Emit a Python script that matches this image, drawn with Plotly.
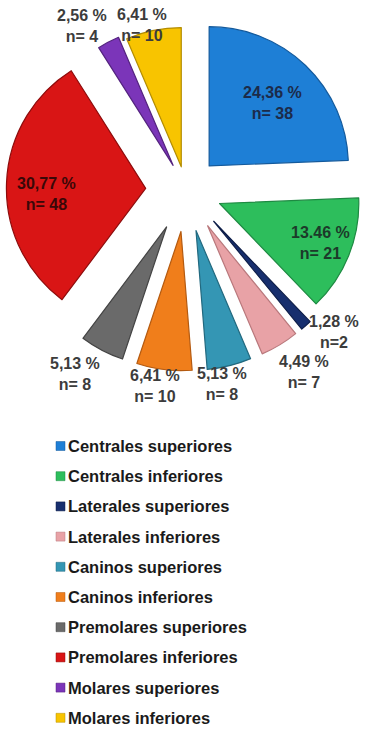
import plotly.graph_objects as go

W, H = 367, 733

categories = ["Centrales superiores", "Centrales inferiores", "Laterales superiores",
              "Laterales inferiores", "Caninos superiores", "Caninos inferiores",
              "Premolares superiores", "Premolares inferiores", "Molares superiores",
              "Molares inferiores"]
counts = [38, 21, 2, 7, 8, 10, 8, 48, 4, 10]
percent_labels = ["24,36 %", "13.46 %", "1,28 %", "4,49 %", "5,13 %", "6,41 %",
                  "5,13 %", "30,77 %", "2,56 %", "6,41 %"]
n_labels = ["n= 38", "n= 21", "n=2", "n= 7", "n= 8", "n= 10", "n= 8", "n= 48", "n= 4", "n= 10"]

colors = ["#1E7FD6", "#2DBE5C", "#172F6E", "#E8A2A6", "#3496B4", "#F07E1B",
          "#6A6A6A", "#D91515", "#7B35B9", "#F8C400"]
edge_colors = ["#145A9C", "#1E8A42", "#0E1E48", "#B9787C", "#22697F", "#B45A10",
               "#444444", "#8E0C0C", "#54237F", "#B38C00"]
pulls = [0.24, 0.26, 0.3, 0.3, 0.3, 0.3, 0.3, 0.29, 0.2, 0.17]

# label placement (pixel centres of the two-line label) and colours
label_pos = [(272, 103), (320, 243), (334, 332), (304, 372), (222, 384),
             (155, 386), (75, 374), (46, 194), (82, 26), (142, 25)]
label_colors = ["#1C2B4A", "#1C3A2A", "#3C3C3C", "#3C3C3C", "#3C3C3C",
                "#3C3C3C", "#3C3C3C", "#3A0808", "#3C3C3C", "#3C3C3C"]

fig = go.Figure()
fig.add_trace(go.Pie(
    labels=categories,
    values=counts,
    textinfo="none",
    marker=dict(colors=colors, line=dict(color=edge_colors, width=1.2)),
    pull=pulls,
    sort=False,
    direction="clockwise",
    rotation=0,
    showlegend=False,
    automargin=False,
    domain=dict(x=[5 / W, 1.0], y=[1 - 372 / H, 1 - 8 / H]),
    hoverinfo="label+value",
))

shapes = []
annotations = []

# slice labels
for (px, py), p, n, c in zip(label_pos, percent_labels, n_labels, label_colors):
    annotations.append(dict(xref="paper", yref="paper", x=px / W, y=1 - py / H,
                            xanchor="center", yanchor="middle", showarrow=False,
                            align="center",
                            text=f"<b>{p}</b><br><b>{n}</b>",
                            font=dict(family="Arial, Liberation Sans", size=16, color=c)))

# custom legend
y0 = 446
step = 30.2
for i, (cat, col) in enumerate(zip(categories, colors)):
    yc = y0 + i * step
    shapes.append(dict(type="rect", xref="paper", yref="paper",
                       x0=56 / W, x1=65 / W, y0=1 - (yc - 4.5) / H, y1=1 - (yc + 4.5) / H,
                       fillcolor=col, line=dict(color=edge_colors[i], width=0.5)))
    annotations.append(dict(xref="paper", yref="paper", x=66 / W, y=1 - yc / H,
                            xanchor="left", yanchor="middle", showarrow=False,
                            text=f"<b>{cat}</b>",
                            font=dict(family="Arial, Liberation Sans", size=16.5, color="#1a1a1a")))

fig.update_layout(
    width=W, height=H,
    margin=dict(l=0, r=0, t=0, b=0, autoexpand=False),
    paper_bgcolor="white",
    plot_bgcolor="white",
    shapes=shapes,
    annotations=annotations,
)

fig.write_html("out.html", config={"displayModeBar": False},
               post_script="document.body.style.margin='0';")
